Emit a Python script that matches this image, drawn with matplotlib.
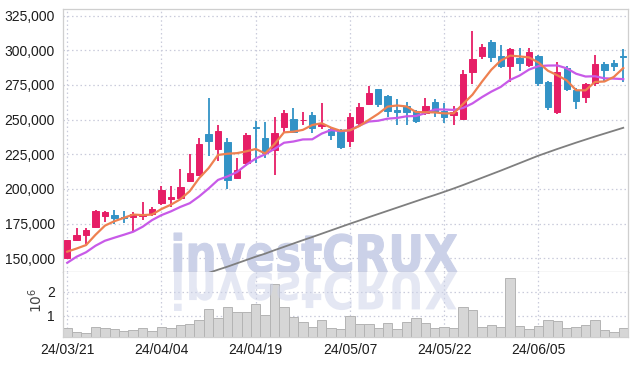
import numpy as np
import matplotlib
matplotlib.use('Agg')
import matplotlib.pyplot as plt
from matplotlib.textpath import TextPath
from matplotlib.patches import PathPatch
from matplotlib.font_manager import FontProperties
from matplotlib.transforms import Affine2D

# trading days (yy/mm/dd)
dates = ['24/03/21', '24/03/22', '24/03/25', '24/03/26', '24/03/27', '24/03/28', '24/03/29', '24/04/01', '24/04/02', '24/04/03',
         '24/04/04', '24/04/05', '24/04/08', '24/04/09', '24/04/11', '24/04/12', '24/04/15', '24/04/16', '24/04/17', '24/04/18',
         '24/04/19', '24/04/22', '24/04/23', '24/04/24', '24/04/25', '24/04/26', '24/04/29', '24/04/30', '24/05/02', '24/05/03',
         '24/05/07', '24/05/08', '24/05/09', '24/05/10', '24/05/13', '24/05/14', '24/05/16', '24/05/17', '24/05/20', '24/05/21',
         '24/05/22', '24/05/23', '24/05/24', '24/05/27', '24/05/28', '24/05/29', '24/05/30', '24/05/31', '24/06/03', '24/06/04',
         '24/06/05', '24/06/07', '24/06/10', '24/06/11', '24/06/12', '24/06/13', '24/06/14', '24/06/17', '24/06/18', '24/06/19']

opens = [150500, 163300, 166900, 172200, 180100, 181300, 180000, 179400, 180100, 182100,
         189800, 192900, 193800, 206000, 210200, 239500, 229100, 234200, 208000, 219000,
         245000, 237000, 228400, 245000, 250500, 249600, 253400, 245700, 243100, 242600,
         234900, 247800, 261300, 271900, 267300, 257000, 260100, 256500, 254600, 262600,
         256300, 253000, 250500, 284600, 296200, 306200, 296200, 289000, 294700, 289400,
         296000, 277200, 255800, 287500, 271400, 266200, 276200, 290200, 290700, 296200]
highs = [163000, 171800, 171800, 184500, 184200, 185000, 184200, 183700, 190500, 186900,
         201800, 202300, 214300, 225100, 236600, 265500, 246200, 236600, 222200, 240200,
         249300, 248200, 251800, 257000, 258300, 255800, 255800, 262300, 243800, 243000,
         254600, 262300, 274300, 272400, 267800, 264700, 263000, 257000, 265500, 265000,
         262000, 259900, 285900, 314000, 304400, 307500, 303900, 302000, 301900, 302000,
         296300, 277800, 291500, 288500, 272700, 276600, 296700, 291800, 293100, 300800]
lows = [150000, 162100, 160500, 171500, 175800, 174900, 175400, 169300, 177700, 180600,
        188500, 187300, 192200, 205300, 209000, 223400, 220300, 200100, 207100, 216200,
        219000, 222000, 210200, 240200, 241000, 246200, 240200, 243100, 235400, 228700,
        230600, 246200, 260600, 259000, 251800, 246200, 246200, 247400, 253400, 252200,
        247500, 246200, 249800, 275500, 293800, 291500, 287100, 277200, 285300, 288200,
        274300, 257000, 253800, 271000, 258000, 262300, 274000, 277500, 285400, 277000]
closes = [162800, 167000, 170000, 184200, 183500, 178700, 179200, 181900, 182000, 185500,
          198900, 194500, 201500, 211600, 232500, 234900, 242100, 206100, 213300, 239000,
          243600, 225800, 240500, 255100, 241400, 250000, 243600, 246900, 239000, 230100,
          251800, 259000, 269000, 261100, 256300, 255600, 255400, 249100, 259900, 255800,
          252200, 255400, 283000, 293800, 302200, 295400, 288700, 301000, 290700, 298700,
          276700, 259400, 284600, 272200, 263300, 275800, 290200, 285900, 289000, 295000]
volumes = [475000, 310000, 270000, 520000, 475000, 430000, 350000, 390000, 475000, 350000,
           520000, 475000, 610000, 650000, 820000, 1270000, 890000, 1350000, 1140000, 1140000,
           1475000, 1020000, 2310000, 1350000, 930000, 725000, 520000, 810000, 475000, 430000,
           990000, 640000, 640000, 475000, 680000, 430000, 750000, 890000, 710000, 475000,
           520000, 475000, 1350000, 1240000, 520000, 610000, 520000, 2560000, 570000, 450000,
           570000, 810000, 780000, 475000, 520000, 610000, 810000, 390000, 310000, 475000]

ma5 = [154700, 157000, 159500, 166900, 173500, 176700, 179100, 181500, 181100, 181500,
       185500, 188600, 192500, 198400, 207800, 215000, 224500, 225400, 225800, 227100,
       228800, 225600, 232400, 240800, 241300, 242600, 246100, 247400, 244200, 241900,
       242300, 245400, 249800, 254200, 259400, 260200, 259500, 255500, 255300, 255200,
       254500, 254500, 261300, 268000, 277300, 286000, 292600, 296200, 295600, 294900,
       291200, 285300, 282000, 278300, 271200, 271100, 277200, 277500, 280800, 287200]
ma10 = [146700, 151100, 154300, 159000, 162600, 164800, 166900, 169100, 172700, 177500,
        181100, 183800, 187000, 189700, 194600, 200300, 206500, 209000, 212100, 217400,
        221900, 225000, 228900, 233300, 234200, 235700, 235800, 239900, 242500, 241600,
        242400, 245700, 248600, 249200, 250700, 251200, 252400, 252600, 254700, 257300,
        257300, 257000, 258400, 261700, 266200, 270200, 273600, 278700, 281800, 286100,
        288600, 289000, 289100, 287000, 283100, 281100, 281300, 279800, 279600, 279200]
# 60-day average, visible from the 16th session on
ma60_first = 15
ma60 = [139400, 141700, 143900, 146300, 148700, 151100, 153300, 155800, 158200, 160600,
        163000, 165300, 167700, 170100, 172500, 174900, 177200, 179600, 181900, 184200,
        186500, 188800, 191100, 193400, 195600, 197900, 200300, 202800, 205400, 208000,
        210600, 213200, 215900, 218600, 221300, 224000, 226400, 228800, 231100, 233400,
        235600, 237800, 239900, 242000, 244100]

PINK = '#e61e66'
BLUE = '#3393c6'
ORANGE = '#ee8050'
PURPLE = '#c85ae8'
GRID = '#c9cbdb'
TXT = '#1c1c1c'
WM = '#cbd1e8'
W, H = 636, 366

plt.rcParams['font.family'] = ['Liberation Sans', 'DejaVu Sans']

fig = plt.figure(figsize=(W / 100, H / 100), dpi=100)
ax = fig.add_axes([63 / W, 1 - 272 / H, (627.5 - 63) / W, (272 - 9.3) / H])
axv = fig.add_axes([63 / W, 1 - 337.3 / H, (627.5 - 63) / W, (337.3 - 272) / H], sharex=ax)

x = np.arange(len(dates))
o = np.array(opens)
c = np.array(closes)
cols = np.where(c >= o, PINK, BLUE)

ax.vlines(x, lows, highs, colors=cols, linewidth=1.3, zorder=3)
ax.bar(x, np.abs(c - o), bottom=np.minimum(o, c), width=0.68, color=cols,
       edgecolor=cols, linewidth=0.7, zorder=4)
ax.plot(x[ma60_first:], ma60, color='#7f7f7f', linewidth=1.3, zorder=5)
ax.plot(x, ma10, color=PURPLE, linewidth=1.6, zorder=5)
ax.plot(x, ma5, color=ORANGE, linewidth=1.6, zorder=6)

ax.set_ylim(140050, 329600)
ax.set_xlim(-0.45, len(dates) - 0.55)
ax.set_yticks(np.arange(150000, 330000, 25000))
ax.yaxis.set_major_formatter(matplotlib.ticker.StrMethodFormatter('{x:,.0f}'))

vol_m = np.array(volumes) / 1e6
axv.bar(x, vol_m, width=1.0, color='#d6d6d6', edgecolor='#b4b4b4', linewidth=0.7, zorder=2)
axv.set_ylim(0.1, 2.81)
axv.set_yticks([1, 2])

axv.set_xticks(x[::10])
axv.set_xticklabels(dates[::10])

for a in (ax, axv):
    a.grid(True, color=GRID, linestyle=(0, (1.2, 2.2)), linewidth=0.9, zorder=0)
    a.set_axisbelow(True)
    a.tick_params(length=0, labelsize=10, colors=TXT, pad=6)
    for s in a.spines.values():
        s.set_color('#cfcfcf')
        s.set_linewidth(0.9)
ax.tick_params(labelbottom=False)
ax.spines['bottom'].set_color('#bdbdbd')
axv.spines['top'].set_visible(False)
axv.tick_params(axis='x', pad=4)

fig.text(36 / W, 1 - 300 / H, r'$10^6$', rotation=90, ha='center', va='center',
         fontsize=10, color='#444444')

# watermark with its mirror image under the baseline
fp = FontProperties(family='DejaVu Sans', weight='bold')
tp = TextPath((0, 0), 'investCRUX', size=50, prop=fp)
ext = tp.get_extents()
x0, x1 = 174, 457
base = H - 272
sx = (x1 - x0) / ext.width
sy = 39 / ext.y1
main_tr = Affine2D().translate(-ext.x0, 0).scale(sx, sy).translate(x0, base)
mirror_tr = Affine2D().translate(-ext.x0, 0).scale(sx, -sy).translate(x0, base)
wm = PathPatch(tp, transform=main_tr, facecolor=WM, edgecolor=WM, linewidth=0.8, zorder=1)
ax.add_artist(wm)
wm2 = PathPatch(tp, transform=mirror_tr, facecolor=WM, edgecolor='none',
                alpha=0.5, zorder=3)
axv.add_artist(wm2)

fig.savefig('out.png', dpi=100)
